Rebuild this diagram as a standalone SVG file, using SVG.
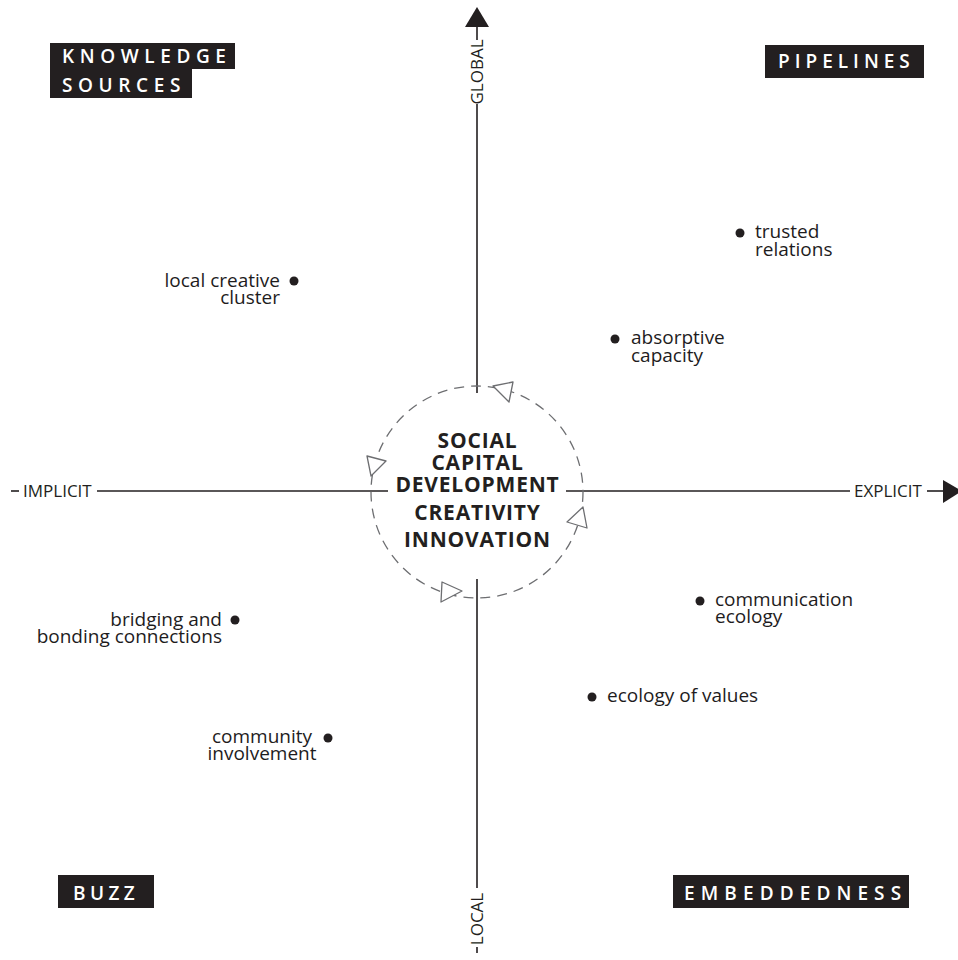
<svg xmlns="http://www.w3.org/2000/svg" width="958" height="960" viewBox="0 0 958 960">
  <style>
    .axis { stroke: #231f20; stroke-width: 1.6; fill: none; }
    .head { fill: #231f20; stroke: none; }
    .cycle { stroke: #6d6e71; stroke-width: 1.3; fill: none; stroke-dasharray: 10 7; }
    .cyclehead { fill: #ffffff; stroke: #6d6e71; stroke-width: 1.3; stroke-linejoin: round; }
    .axislabel { font-family: "Open Sans", "Liberation Sans", sans-serif; font-size: 17px; font-weight: 500; fill: #231f20; }
    .tagbox { fill: #231f20; }
    .tag { font-family: "Open Sans", "Liberation Sans", sans-serif; font-size: 19px; font-weight: 600; letter-spacing: 5.6px; fill: #ffffff; }
    .item { font-family: "Open Sans", "Liberation Sans", sans-serif; font-size: 19px; font-weight: 500; fill: #1e1c1d; }
    .dot { fill: #231f20; }
    .core { font-family: "Open Sans", "Liberation Sans", sans-serif; font-size: 21px; font-weight: 700; letter-spacing: 0.8px; fill: #231f20; text-anchor: middle; }
  </style>

  <!-- axes and the central cycle -->
  <g id="connectors">
    <!-- vertical axis: GLOBAL (top) to LOCAL (bottom) -->
    <polygon class="head" points="477,7 465,27 489,27"/>
    <line class="axis" x1="477" y1="26" x2="477" y2="40"/>
    <line class="axis" x1="477" y1="104" x2="477" y2="393"/>
    <line class="axis" x1="477" y1="579" x2="477" y2="888"/>
    <line class="axis" x1="477" y1="947" x2="477" y2="953"/>
    <text class="axislabel" text-anchor="middle" transform="translate(483,72) rotate(-90)">GLOBAL</text>
    <text class="axislabel" text-anchor="middle" transform="translate(483,919) rotate(-90)">LOCAL</text>

    <!-- horizontal axis: IMPLICIT (left) to EXPLICIT (right) -->
    <line class="axis" x1="11" y1="491" x2="19" y2="491"/>
    <line class="axis" x1="97" y1="491" x2="388" y2="491"/>
    <line class="axis" x1="566" y1="491" x2="850" y2="491"/>
    <line class="axis" x1="927" y1="491" x2="944" y2="491"/>
    <polygon class="head" points="943,480 943,503 962,491"/>
    <text class="axislabel" x="23" y="497">IMPLICIT</text>
    <text class="axislabel" x="854" y="497">EXPLICIT</text>

    <!-- dashed cycle with open arrowheads running anticlockwise -->
    <circle class="cycle" cx="477" cy="492" r="106"/>
    <polygon class="cyclehead" points="493,386 513,382 509,402"/>
    <polygon class="cyclehead" points="371,476 367,456 386,461"/>
    <polygon class="cyclehead" points="462,591 442,582 441,602"/>
    <polygon class="cyclehead" points="583,507 567,522 587,528"/>
  </g>

  <!-- centre -->
  <g id="core">
    <text class="core" x="477.5" y="448">SOCIAL</text>
    <text class="core" x="477.5" y="470">CAPITAL</text>
    <text class="core" x="477.5" y="492">DEVELOPMENT</text>
    <text class="core" x="477.5" y="520">CREATIVITY</text>
    <text class="core" x="477.5" y="547">INNOVATION</text>
  </g>

  <!-- quadrant tags -->
  <g id="knowledge-sources">
    <path class="tagbox" d="M50,43 H235 V69 H192 V98 H50 Z"/>
    <text class="tag" x="62" y="63">KNOWLEDGE</text>
    <text class="tag" x="62" y="92">SOURCES</text>
  </g>
  <g id="pipelines">
    <rect class="tagbox" x="765" y="45" width="159" height="33"/>
    <text class="tag" x="778" y="68" style="letter-spacing:5px">PIPELINES</text>
  </g>
  <g id="buzz">
    <rect class="tagbox" x="58" y="875" width="96" height="33"/>
    <text class="tag" x="73" y="900" style="letter-spacing:4.4px">BUZZ</text>
  </g>
  <g id="embeddedness">
    <rect class="tagbox" x="673" y="875" width="236" height="33"/>
    <text class="tag" x="684" y="900" style="letter-spacing:6.1px">EMBEDDEDNESS</text>
  </g>

  <!-- plotted items -->
  <g id="local-creative-cluster">
    <circle class="dot" cx="294" cy="281" r="4.5"/>
    <text class="item" text-anchor="end" x="280" y="287">local creative</text>
    <text class="item" text-anchor="end" x="280" y="304">cluster</text>
  </g>
  <g id="trusted-relations">
    <circle class="dot" cx="740" cy="233" r="4.5"/>
    <text class="item" x="755" y="238">trusted</text>
    <text class="item" x="755" y="256">relations</text>
  </g>
  <g id="absorptive-capacity">
    <circle class="dot" cx="615" cy="339" r="4.5"/>
    <text class="item" x="631" y="344">absorptive</text>
    <text class="item" x="631" y="362">capacity</text>
  </g>
  <g id="bridging-bonding">
    <circle class="dot" cx="235" cy="620" r="4.5"/>
    <text class="item" text-anchor="end" x="222" y="626">bridging and</text>
    <text class="item" text-anchor="end" x="222" y="643">bonding connections</text>
  </g>
  <g id="community-involvement">
    <circle class="dot" cx="328" cy="738" r="4.5"/>
    <text class="item" text-anchor="middle" x="262" y="743">community</text>
    <text class="item" text-anchor="middle" x="262" y="760">involvement</text>
  </g>
  <g id="communication-ecology">
    <circle class="dot" cx="700" cy="601" r="4.5"/>
    <text class="item" x="715" y="606">communication</text>
    <text class="item" x="715" y="623">ecology</text>
  </g>
  <g id="ecology-of-values">
    <circle class="dot" cx="592" cy="697" r="4.5"/>
    <text class="item" x="607" y="702">ecology of values</text>
  </g>
</svg>
